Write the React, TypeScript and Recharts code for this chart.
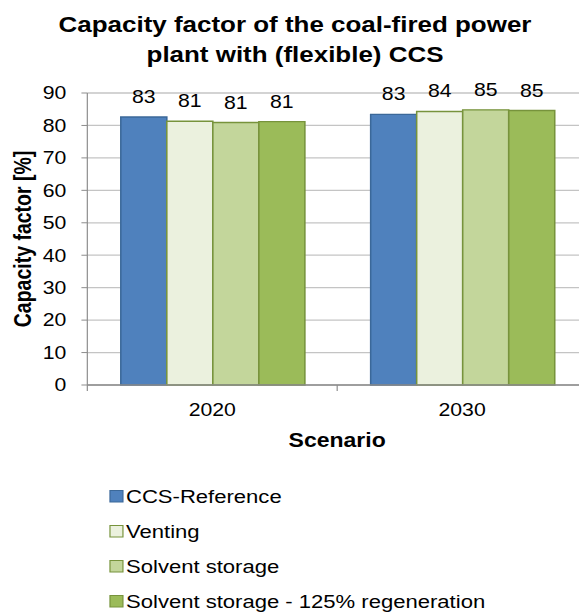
import { BarChart, Bar, XAxis, YAxis, CartesianGrid, LabelList } from 'recharts';

const categories = ['2020', '2030'];
const ccsReference = [82.6, 83.4];
const venting = [81.3, 84.3];
const solventStorage = [80.9, 84.8];
const solventStorage125 = [81.2, 84.6];
const yTicks = [0, 10, 20, 30, 40, 50, 60, 70, 80, 90];

// the reference is a little wider than tall, so the whole chart is stretched sideways
const STRETCH = 1.18;
const W = 505;
const H = 613;
const MARGIN = { top: 93, right: 7.5, left: 10, bottom: 158 };
const Y_AXIS_W = 64;
const X_AXIS_H = 70;
const FONT = '"Liberation Sans", Arial, sans-serif';
const AXIS_GREY = '#8c8c8c';

// note: a data key called "ref" gets spread onto the bar props, so avoid it
const series = [
  { key: 'ccsRef', name: 'CCS-Reference', values: ccsReference, fill: '#4f81bd', stroke: '#3b6899' },
  { key: 'vent', name: 'Venting', values: venting, fill: '#ebf1de', stroke: '#77933c' },
  { key: 'store', name: 'Solvent storage', values: solventStorage, fill: '#c3d69b', stroke: '#77933c' },
  { key: 'store125', name: 'Solvent storage - 125% regeneration', values: solventStorage125, fill: '#9bbb59', stroke: '#77933c' },
];

const data = categories.map((scenario, i) => {
  const row: Record<string, string | number> = { scenario };
  series.forEach((s) => {
    row[s.key] = s.values[i];
  });
  return row;
});

const plotLeft = MARGIN.left + Y_AXIS_W;
const plotRight = W - MARGIN.right;
const plotBottom = H - MARGIN.bottom - X_AXIS_H;
const halfBand = (plotRight - plotLeft) / categories.length / 2;

function renderScenarioTick(props: any) {
  const { x, y, payload, index } = props;
  return (
    <g>
      <line x1={x - halfBand} x2={x - halfBand} y1={y} y2={y + 6} stroke={AXIS_GREY} />
      {index === categories.length - 1 && (
        <line x1={x + halfBand} x2={x + halfBand} y1={y} y2={y + 6} stroke={AXIS_GREY} />
      )}
      <text x={x} y={y + 31} textAnchor="middle" fontSize={18} fill="#000" fontFamily={FONT}>
        {payload.value}
      </text>
    </g>
  );
}

export default function App() {
  const yTitleX = 26.7;
  const yTitleY = (MARGIN.top + plotBottom) / 2;
  return (
    <div
      style={{
        position: 'absolute',
        left: 0,
        top: 0,
        width: 579,
        height: 613,
        overflow: 'hidden',
        background: '#fff',
      }}
    >
      <div
        style={{
          position: 'absolute',
          left: 0,
          top: 0,
          width: W,
          height: H,
          transform: `scaleX(${STRETCH})`,
          transformOrigin: '0 0',
        }}
      >
        <BarChart width={W} height={H} data={data} margin={MARGIN} barCategoryGap="13.4%" barGap={0}>
          <CartesianGrid horizontal vertical={false} stroke="#c4c4c4" strokeWidth={1.3} />
          <XAxis
            dataKey="scenario"
            height={X_AXIS_H}
            tickSize={0}
            tickMargin={0}
            tickLine={false}
            axisLine={{ stroke: AXIS_GREY, strokeWidth: 1.3 }}
            tick={renderScenarioTick}
            interval={0}
          />
          <YAxis
            width={Y_AXIS_W}
            domain={[0, 90]}
            ticks={yTicks}
            interval={0}
            tickSize={5}
            tickMargin={12.7}
            axisLine={{ stroke: AXIS_GREY }}
            tickLine={{ stroke: AXIS_GREY }}
            tick={{ fontSize: 18, fill: '#000', fontFamily: FONT }}
          />
          {series.map((s) => (
            <Bar
              key={s.key}
              dataKey={s.key}
              name={s.name}
              fill={s.fill}
              stroke={s.stroke}
              strokeWidth={1.3}
              isAnimationActive={false}
            >
              <LabelList
                dataKey={s.key}
                position="top"
                offset={14}
                formatter={(v: any) => Math.round(Number(v))}
                fontSize={18}
                fill="#000"
                fontFamily={FONT}
              />
            </Bar>
          ))}
        </BarChart>
        <svg
          width={W}
          height={H}
          style={{ position: 'absolute', left: 0, top: 0, pointerEvents: 'none' }}
          fontFamily={FONT}
        >
          <text x={250} y={32} textAnchor="middle" fontSize={22} fontWeight="bold" fill="#000">
            Capacity factor of the coal-fired power
          </text>
          <text x={250} y={62} textAnchor="middle" fontSize={22} fontWeight="bold" fill="#000">
            plant with (flexible) CCS
          </text>
          <text
            x={yTitleX}
            y={yTitleY}
            transform={`rotate(-90, ${yTitleX}, ${yTitleY})`}
            textAnchor="middle"
            fontSize={19.5}
            fontWeight="bold"
            fill="#000"
          >
            Capacity factor [%]
          </text>
          <text
            x={(plotLeft + plotRight) / 2}
            y={plotBottom + 62}
            textAnchor="middle"
            fontSize={19.5}
            fontWeight="bold"
            fill="#000"
          >
            Scenario
          </text>
          {series.map((s, i) => {
            const base = 503 + i * 35;
            return (
              <g key={s.key}>
                <rect x={93.2} y={base - 12.5} width={11} height={11.5} fill={s.fill} stroke={s.stroke} strokeWidth={1} />
                <text x={106.8} y={base} fontSize={18.7} fill="#000">
                  {s.name}
                </text>
              </g>
            );
          })}
        </svg>
      </div>
    </div>
  );
}
